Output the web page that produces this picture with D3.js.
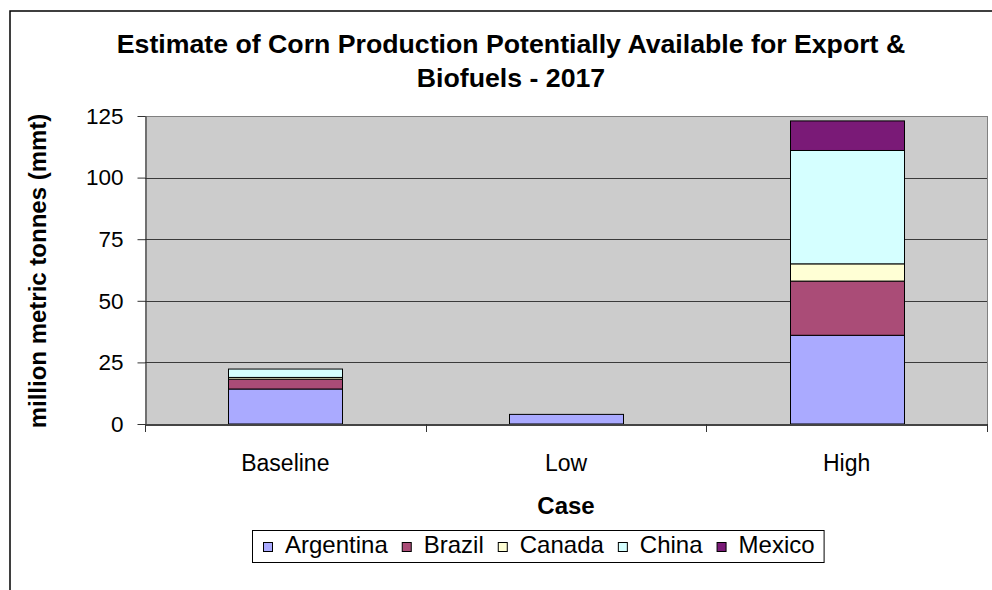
<!DOCTYPE html>
<html>
<head>
<meta charset="utf-8">
<script src="https://cdn.jsdelivr.net/npm/d3@7/dist/d3.min.js"></script>
<style>
  html, body { margin: 0; padding: 0; background: #fff; }
  svg { display: block; font-family: "Liberation Sans", Arial, sans-serif; }
</style>
</head>
<body>
<svg id="chart" width="992" height="590"></svg>
<script>
// Corn production potentially available for export & biofuels, 2017 (mmt)
const cases = ["Baseline", "Low", "High"];
const countries = ["Argentina", "Brazil", "Canada", "China", "Mexico"];
const argentina = [14.2, 3.9, 36];
const brazil = [4.0, 0, 22];
const canada = [0.7, 0, 7];
const china = [3.4, 0, 46];
const mexico = [0, 0, 12];
const yTicks = [0, 25, 50, 75, 100, 125];
const colors = ["#AAAAFF", "#AA4C77", "#FFFFD5", "#D5FFFF", "#7A1A77"];

const seriesValues = [argentina, brazil, canada, china, mexico];
const rows = cases.map((c, i) => {
  const r = { case: c };
  countries.forEach((k, j) => { r[k] = seriesValues[j][i]; });
  return r;
});

const svg = d3.select("#chart");
const plot = { left: 145, right: 987, top: 116, bottom: 424 };

// outer chart frame
svg.append("rect")
  .attr("x", 10).attr("y", 11)
  .attr("width", 1000).attr("height", 600)
  .attr("fill", "#fff").attr("stroke", "#000").attr("stroke-width", 1.5);

// title
const title = svg.append("text")
  .attr("text-anchor", "middle")
  .attr("font-weight", "bold").attr("font-size", 26.7).attr("fill", "#000");
title.append("tspan").attr("x", 511).attr("y", 53)
  .text("Estimate of Corn Production Potentially Available for Export &");
title.append("tspan").attr("x", 511).attr("y", 87)
  .text("Biofuels - 2017");

const x = d3.scaleBand()
  .domain(cases)
  .range([plot.left, plot.right])
  .paddingInner(0.594)
  .paddingOuter(0.297);

const y = d3.scaleLinear()
  .domain([0, 125])
  .range([plot.bottom, plot.top]);

// plot background
svg.append("rect")
  .attr("x", plot.left).attr("y", plot.top)
  .attr("width", plot.right - plot.left).attr("height", plot.bottom - plot.top)
  .attr("fill", "#CCCCCC");

// gridlines
svg.append("g").selectAll("line")
  .data(yTicks.filter(t => t > 0))
  .join("line")
  .attr("x1", plot.left).attr("x2", plot.right)
  .attr("y1", d => Math.round(y(d)) + 0.5).attr("y2", d => Math.round(y(d)) + 0.5)
  .attr("stroke", d => d === 125 ? "#808080" : "#3a3a3a")
  .attr("stroke-width", 1);

// right edge of plot area
svg.append("line")
  .attr("x1", plot.right + 0.5).attr("x2", plot.right + 0.5)
  .attr("y1", plot.top).attr("y2", plot.bottom)
  .attr("stroke", "#808080");

// stacked bars
const stack = d3.stack().keys(countries);
const layers = stack(rows);

svg.append("g").selectAll("g")
  .data(layers)
  .join("g")
  .attr("fill", (d, i) => colors[i])
  .selectAll("rect")
  .data(d => d.filter(s => s[1] - s[0] > 0))
  .join("rect")
  .attr("x", d => Math.round(x(d.data.case)) + 0.5)
  .attr("width", Math.round(x.bandwidth()))
  .attr("y", d => y(d[1]))
  .attr("height", d => y(d[0]) - y(d[1]))
  .attr("stroke", "#000")
  .attr("stroke-width", 1);

// y axis
const yAxis = svg.append("g")
  .attr("transform", `translate(${plot.left + 0.5},0)`)
  .call(d3.axisLeft(y).tickValues(yTicks).tickSize(8).tickPadding(14).tickSizeOuter(0));
yAxis.select(".domain").attr("stroke", "#333").attr("stroke-width", 1.2);
yAxis.selectAll(".tick line").attr("stroke", "#333");
yAxis.selectAll(".tick text")
  .attr("font-size", 22.5).attr("fill", "#000")
  .attr("font-family", "'Liberation Sans', Arial, sans-serif");

// x axis
const xAxis = svg.append("g")
  .attr("transform", `translate(0,${plot.bottom + 0.5})`)
  .call(d3.axisBottom(x).tickSize(0).tickPadding(0).tickSizeOuter(0));
xAxis.select(".domain").attr("stroke", "#444").attr("stroke-width", 2);
xAxis.selectAll(".tick text")
  .attr("font-size", 23).attr("fill", "#000")
  .attr("font-family", "'Liberation Sans', Arial, sans-serif")
  .attr("dy", null)
  .attr("y", 46);

// category separator ticks on the x axis
const step = x.step();
const boundaries = d3.range(cases.length + 1).map(i => plot.left + i * step);
svg.append("g").selectAll("line")
  .data(boundaries)
  .join("line")
  .attr("x1", d => Math.round(d) + 0.5).attr("x2", d => Math.round(d) + 0.5)
  .attr("y1", plot.bottom).attr("y2", plot.bottom + 8)
  .attr("stroke", "#333");

// axis titles
svg.append("text")
  .attr("transform", `translate(46,271) rotate(-90)`)
  .attr("text-anchor", "middle")
  .attr("font-weight", "bold").attr("font-size", 24)
  .text("million metric tonnes (mmt)");

svg.append("text")
  .attr("x", (plot.left + plot.right) / 2).attr("y", 514)
  .attr("text-anchor", "middle")
  .attr("font-weight", "bold").attr("font-size", 24)
  .text("Case");

// legend
const legend = svg.append("g");
const legendBox = legend.append("rect")
  .attr("fill", "#fff").attr("stroke", "#000").attr("stroke-width", 1);
const items = legend.selectAll("g.item")
  .data(countries)
  .join("g").attr("class", "item");
items.append("rect")
  .attr("x", 0.5).attr("y", 0.5)
  .attr("width", 9).attr("height", 9)
  .attr("fill", (d, i) => colors[i])
  .attr("stroke", "#000").attr("stroke-width", 1);
items.append("text")
  .attr("x", 22).attr("y", 11)
  .attr("font-size", 24)
  .text(d => d);

let cursor = 263;
items.each(function () {
  const g = d3.select(this);
  g.attr("transform", `translate(${cursor},542)`);
  const w = g.select("text").node().getComputedTextLength();
  cursor += 22 + w + 14;
});
legendBox.attr("x", 252.5).attr("y", 530.5)
  .attr("width", cursor - 14 + 9 - 252).attr("height", 32);
</script>
</body>
</html>
